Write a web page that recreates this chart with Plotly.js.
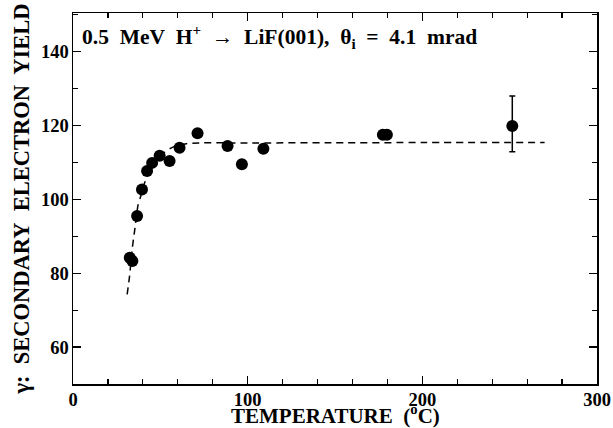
<!DOCTYPE html>
<html>
<head>
<meta charset="utf-8">
<script src="https://cdn.plot.ly/plotly-3.0.1.min.js"></script>
<style>html,body{margin:0;padding:0;background:#fff;}#chart{width:613px;height:428px;}</style>
</head>
<body>
<div id="chart"></div>
<script>
// Measured secondary electron yield vs temperature
const temperature = [32.5, 34, 36.7, 39.5, 42.4, 45.3, 49.6, 55.3, 61.0, 71.3, 88.5, 96.7, 109.0, 177.4, 179.7, 251.5];
const yieldValues = [84.2, 83.3, 95.5, 102.7, 107.7, 109.9, 111.8, 110.4, 114.0, 117.9, 114.5, 109.5, 113.7, 117.5, 117.5, 119.9];
const errorPlus  = [0, 0, 0, 0, 0, 0, 0, 0, 0, 0, 0, 0, 0, 0, 0, 8.1];
const errorMinus = [0, 0, 0, 0, 0, 0, 0, 0, 0, 0, 0, 0, 0, 0, 0, 7.0];

// Dashed guide curve
const fitT = [31, 32.3, 34, 35.3, 37.2, 38.6, 41, 44, 48, 52, 56, 60, 65, 72, 100, 150, 200, 270];
const fitY = [74.3, 78.9, 87, 91.6, 98.4, 100.6, 104.5, 108, 110.8, 112.6, 113.9, 114.7, 115.1, 115.3, 115.3, 115.35, 115.4, 115.4];

const xTickVals = [0, 100, 200, 300];
const xTickText = ['0', '100', '200', '300'];
const yTickVals = [60, 80, 100, 120, 140];
const yTickText = ['60', '80', '100', '120', '140'];

const serif = 'Liberation Serif, Times New Roman, serif';

const traces = [
  {
    x: fitT, y: fitY, type: 'scatter', mode: 'lines',
    line: {color: '#000', width: 1.5, dash: '7px,5px', shape: 'spline', smoothing: 0.6},
    hoverinfo: 'skip', showlegend: false
  },
  {
    x: temperature, y: yieldValues, type: 'scatter', mode: 'markers',
    marker: {color: '#000', size: 12},
    error_y: {type: 'data', symmetric: false, array: errorPlus, arrayminus: errorMinus,
              color: '#000', thickness: 1.5, width: 3},
    showlegend: false
  }
];

const axisCommon = {
  showgrid: false, zeroline: false, showline: true, linecolor: '#000', linewidth: 1.5,
  mirror: 'ticks', ticks: 'inside', ticklen: 8, tickwidth: 1.2, tickcolor: '#000',
  tickfont: {family: serif, size: 18.5, color: '#000', weight: 'bold'}
};

const layout = {
  width: 613, height: 428,
  margin: {l: 72.5, r: 15.5, t: 13.3, b: 44},
  paper_bgcolor: '#fff', plot_bgcolor: '#fff',
  showlegend: false,
  xaxis: Object.assign({}, axisCommon, {
    range: [0, 300], tickmode: 'array', tickvals: xTickVals, ticktext: xTickText,
    minor: {dtick: 20, tick0: 0, ticks: 'inside', ticklen: 5, tickwidth: 1.2, tickcolor: '#000'},
    ticklabelstandoff: -2
  }),
  yaxis: Object.assign({}, axisCommon, {
    range: [50, 150.5], tickmode: 'array', tickvals: yTickVals, ticktext: yTickText,
    minor: {dtick: 10, tick0: 0, ticks: 'inside', ticklen: 5, tickwidth: 1.2, tickcolor: '#000'},
    ticklabelstandoff: -1,
    title: {text: 'γ:\u00a0 SECONDARY\u00a0 ELECTRON\u00a0 YIELD', standoff: 5,
            font: {family: serif, size: 22.5, color: '#000', weight: 'bold'}}
  }),
  annotations: [
    {
      xref: 'paper', yref: 'paper', x: 0.014, y: 0.936, xanchor: 'left', yanchor: 'middle',
      showarrow: false,
      text: '0.5\u00a0 MeV\u00a0 H<sup>+</sup>\u00a0 →\u00a0 LiF(001),\u00a0 θ<sub>i</sub>\u00a0 =\u00a0 4.1\u00a0 mrad',
      font: {family: serif, size: 21.5, color: '#000', weight: 'bold'}
    },
    {
      xref: 'paper', yref: 'paper', x: 0.5, y: -0.082, xanchor: 'center', yanchor: 'middle',
      showarrow: false,
      text: 'TEMPERATURE\u00a0 (<sup>o</sup>C)',
      font: {family: serif, size: 21, color: '#000', weight: 'bold'}
    }
  ]
};

Plotly.newPlot('chart', traces, layout, {displayModeBar: false, staticPlot: true});
</script>
</body>
</html>
